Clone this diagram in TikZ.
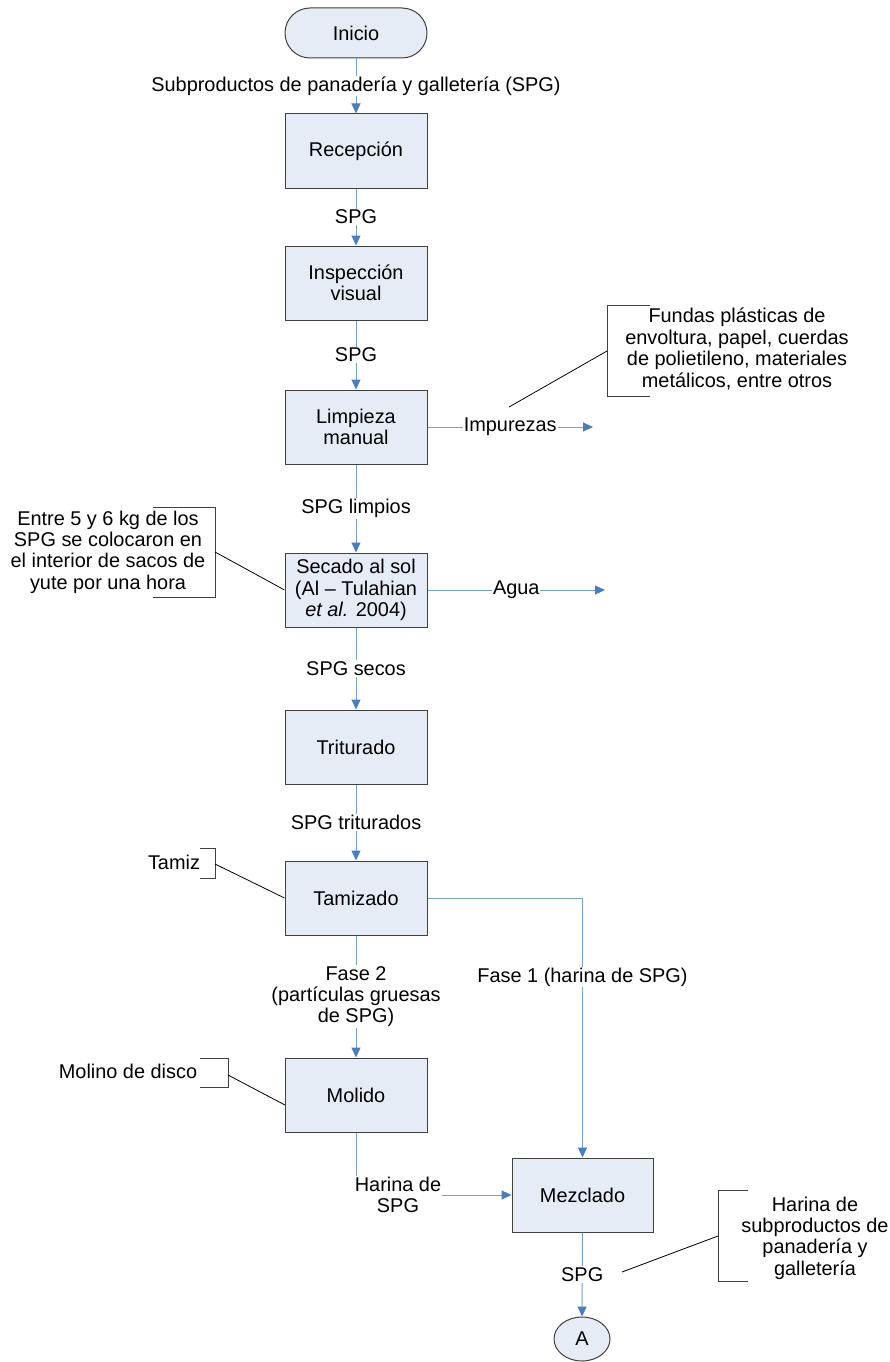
\documentclass[tikz,border=0pt]{standalone}
\usepackage{fontspec}
\setmainfont{Liberation Sans}
\usetikzlibrary{arrows.meta,calc,shapes.geometric}
\definecolor{boxfill}{HTML}{E6ECF6}
\definecolor{boxline}{HTML}{404040}
\definecolor{flowline}{HTML}{7A9FD4}
\definecolor{flowhead}{HTML}{4A7EBB}

\tikzset{
  stepbox/.style={draw=boxline, line width=1pt, fill=boxfill, minimum width=142pt,
    minimum height=74pt, align=center, inner sep=2pt},
  flow/.style={draw=flowline, line width=1pt,
    -{Triangle[length=10pt,width=9pt,color=flowhead]}},
  lbl/.style={fill=white, inner sep=1pt, align=center},
  note/.style={align=center, inner sep=0pt},
  bracket/.style={draw=boxline, line width=1pt},
  callout/.style={draw=black, line width=0.8pt},
}

\begin{document}
\begin{tikzpicture}[x=1pt, y=-1pt, font=\fontsize{19.9pt}{21.4pt}\selectfont]
\useasboundingbox (0,0) rectangle (890,1362);

% process steps
\node[stepbox, rounded corners=25pt, minimum height=50pt] (inicio) at (356,33) {Inicio};
\node[stepbox] (recep)  at (356,151)  {Recepción};
\node[stepbox] (insp)   at (356,283)  {Inspección\\visual};
\node[stepbox] (limp)   at (356,427)  {Limpieza\\manual};
\node[stepbox] (secado) at (356,590)  {Secado al sol\\(Al – Tulahian\\\textit{et al.} 2004)};
\node[stepbox] (trit)   at (356,747)  {Triturado};
\node[stepbox] (tamiz)  at (356,898)  {Tamizado};
\node[stepbox] (molido) at (356,1095) {Molido};
\node[stepbox, minimum width=141pt] (mezcla) at (582.5,1195) {Mezclado};
\node[draw=boxline, line width=1pt, fill=boxfill, ellipse, minimum width=56pt,
      minimum height=44pt, inner sep=0pt] (conA) at (582,1339) {A};

% main flow
\draw[flow] (inicio) -- node[lbl] {Subproductos de panadería y galletería (SPG)} (recep);
\draw[flow] (recep) -- node[lbl] {SPG} (insp);
\draw[flow] (insp) -- node[lbl] {SPG} (limp);
\draw[flow] (limp) -- node[lbl] {SPG limpios} (secado);
\draw[flow] (secado) -- node[lbl] {SPG secos} (trit);
\draw[flow] (trit) -- node[lbl] {SPG triturados} (tamiz);
\draw[flow] (tamiz) -- node[lbl] {Fase 2\\(partículas gruesas\\de SPG)} (molido);
\draw[flow] (tamiz.east) -| node[lbl, pos=0.652] {Fase 1 (harina de SPG)} (mezcla.north);
\draw[flow] (molido.south) |- node[lbl, pos=0.635] {Harina de\\SPG} (mezcla.west);
\draw[flow] (mezcla) -- node[lbl] {SPG} (conA);

% outputs
\coordinate (impend) at (593,427);
\coordinate (aguaend) at (605,590);
\draw[flow] (limp.east) -- node[lbl] {Impurezas} (impend);
\draw[flow] (secado.east) -- node[lbl] {Agua} (aguaend);

% annotations
\node[note] (fundas) at (737,349) {Fundas plásticas de\\envoltura, papel, cuerdas\\de polietileno, materiales\\metálicos, entre otros};
\draw[bracket] (650,305) -- (607,305) -- (607,396) -- (650,396);
\coordinate (fundasb) at (607,351);
\coordinate (impfree) at (509,407);
\draw[callout] (impfree) -- (fundasb);

\node[note] (sacos) at (108,552) {Entre 5 y 6 kg de los\\SPG se colocaron en\\el interior de sacos de\\yute por una hora};
\draw[bracket] (153,507) -- (215,507) -- (215,597) -- (153,597);
\coordinate (sacosb) at (215,552);
\draw[callout] (sacosb) -- (secado.west);

\node[note] (tamnote) at (174,862) {Tamiz};
\draw[bracket] (200,848) -- (215,848) -- (215,878) -- (200,878);
\coordinate (tamb) at (215,864);
\draw[callout] (tamb) -- (tamiz.west);

\node[note] (molnote) at (128,1071) {Molino de disco};
\draw[bracket] (200,1058) -- (228,1058) -- (228,1087) -- (200,1087);
\coordinate (molb) at (228,1075);
\coordinate (molw) at (285,1105);
\draw[callout] (molb) -- (molw);

\node[note] (harnote) at (815,1238) {Harina de\\subproductos de\\panadería y\\galletería};
\draw[bracket] (748,1190) -- (718,1190) -- (718,1281) -- (748,1281);
\coordinate (harb) at (718,1236);
\coordinate (spgfree) at (622,1272);
\draw[callout] (spgfree) -- (harb);
\end{tikzpicture}
\end{document}
